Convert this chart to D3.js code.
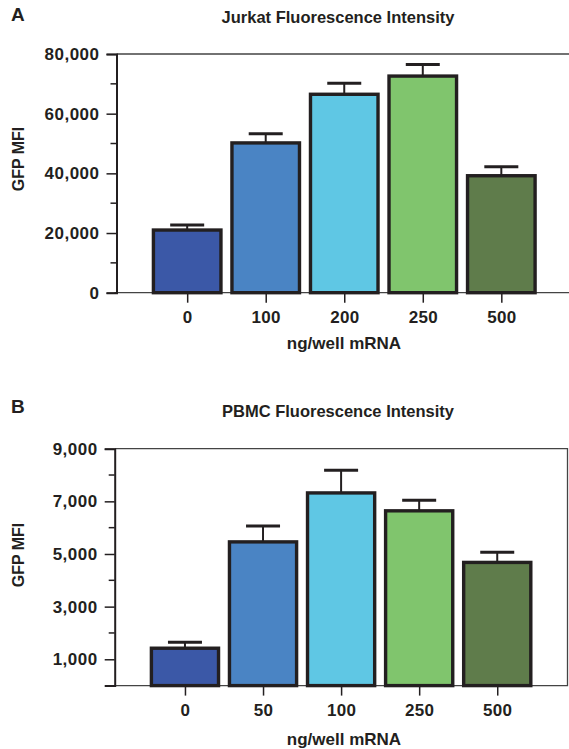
<!DOCTYPE html>
<html>
<head>
<meta charset="utf-8">
<script src="https://cdn.jsdelivr.net/npm/d3@7"></script>
<style>
  body { margin: 0; background: #fff; }
  svg text { font-family: "Liberation Sans", Arial, sans-serif; font-weight: bold; fill: #231f20; }
</style>
</head>
<body>
<div id="master"></div>
<script>
// panel A - Jurkat
const jurkatDoses = ["0", "100", "200", "250", "500"]
const jurkatMFI = [21000, 50200, 66500, 72600, 39200]
const jurkatErr = [1700, 3100, 3700, 3900, 3000]
const jurkatTicks = [0, 20000, 40000, 60000, 80000]

// panel B - PBMC
const pbmcDoses = ["0", "50", "100", "250", "500"]
const pbmcMFI = [1420, 5460, 7320, 6640, 4680]
const pbmcErr = [230, 600, 860, 400, 390]
const pbmcTicks = [1000, 3000, 5000, 7000, 9000]

const barColors = ["#3b58a7", "#4a84c4", "#5fc7e4", "#80c56d", "#5f7c4b"]
const ink = "#231f20"

const svg = d3.select("#master").append("svg").attr("width", 569).attr("height", 749)

const drawPanel = (cfg) => {
  let g = svg.append("g")
  let y = d3.scaleLinear().domain([0, cfg.max]).range([cfg.bottom, cfg.top])
  let x = d3.scalePoint().domain(cfg.cats).range([cfg.left, cfg.right]).padding(0.9)
  let bw = x.step() * 0.86

  // frame
  g.append("path")
    .attr("d", `M${cfg.left},${y(cfg.max)}H${cfg.right}V${y(0)}H${cfg.left - 2}`)
    .attr("fill", "none").attr("stroke", "#444").attr("stroke-width", 1.3)

  // bars
  g.selectAll("rect.bar").data(cfg.vals).enter().append("rect")
    .attr("class", "bar")
    .attr("x", (d, i) => x(cfg.cats[i]) - bw / 2)
    .attr("y", d => y(d))
    .attr("width", bw)
    .attr("height", d => y(0) - y(d))
    .attr("fill", (d, i) => barColors[i])
    .attr("stroke", ink).attr("stroke-width", 3.4)

  // error bars (upper only)
  let eb = g.selectAll("g.err").data(cfg.vals).enter().append("g").attr("class", "err")
  eb.append("line")
    .attr("x1", (d, i) => x(cfg.cats[i])).attr("x2", (d, i) => x(cfg.cats[i]))
    .attr("y1", d => y(d)).attr("y2", (d, i) => y(d + cfg.err[i]))
    .attr("stroke", ink).attr("stroke-width", 2)
  eb.append("line")
    .attr("x1", (d, i) => x(cfg.cats[i]) - 17).attr("x2", (d, i) => x(cfg.cats[i]) + 17)
    .attr("y1", (d, i) => y(d + cfg.err[i])).attr("y2", (d, i) => y(d + cfg.err[i]))
    .attr("stroke", ink).attr("stroke-width", 3)

  // y axis
  let yAxis = d3.axisLeft(y).tickValues(cfg.ticks).tickSize(10).tickPadding(7)
    .tickFormat(d3.format(","))
  let ya = g.append("g").attr("transform", `translate(${cfg.left},0)`).call(yAxis)
  ya.select(".domain").attr("stroke", ink).attr("stroke-width", 2)
  ya.selectAll(".tick line").attr("stroke", ink).attr("stroke-width", 1.5)
  ya.selectAll("text").style("font-size", "17px").attr("fill", ink).style("letter-spacing", "0.5px")
  // minor ticks
  g.selectAll("line.minor").data(cfg.minor).enter().append("line")
    .attr("x1", cfg.left - 6).attr("x2", cfg.left)
    .attr("y1", d => y(d)).attr("y2", d => y(d))
    .attr("stroke", ink).attr("stroke-width", 1.5)

  // x axis
  let xa = g.append("g").attr("transform", `translate(0,${y(0)})`)
    .call(d3.axisBottom(x).tickSize(10).tickSizeOuter(0).tickPadding(8))
  xa.select(".domain").remove()
  xa.selectAll(".tick line").attr("stroke", ink).attr("stroke-width", 1.5)
  xa.selectAll("text").style("font-size", "17px").attr("fill", ink).style("letter-spacing", "0.3px")

  // labels
  g.append("text").attr("x", 11).attr("y", cfg.letterY).text(cfg.letter)
    .style("font-size", "19px")
  g.append("text").attr("x", 338).attr("y", cfg.titleY).text(cfg.title)
    .style("font-size", "16.5px").attr("text-anchor", "middle")
  g.append("text").attr("x", 344).attr("y", cfg.xlabY).text("ng/well mRNA")
    .style("font-size", "17px").attr("text-anchor", "middle")
  g.append("text").attr("transform", `translate(24,${cfg.ylabMid}) rotate(-90)`)
    .text("GFP MFI").style("font-size", "16px").attr("text-anchor", "middle")
}

drawPanel({
  cats: jurkatDoses, vals: jurkatMFI, err: jurkatErr, ticks: jurkatTicks,
  minor: [10000, 30000, 50000, 70000], max: 80000,
  left: 116.5, right: 572, top: 54, bottom: 292.7,
  letter: "A", letterY: 21, title: "Jurkat Fluorescence Intensity", titleY: 22.5, xlabY: 349, ylabMid: 159
})

drawPanel({
  cats: pbmcDoses, vals: pbmcMFI, err: pbmcErr, ticks: pbmcTicks,
  minor: [2000, 4000, 6000, 8000], max: 9000,
  left: 114.7, right: 567.5, top: 448.7, bottom: 685.6,
  letter: "B", letterY: 413, title: "PBMC Fluorescence Intensity", titleY: 417, xlabY: 745, ylabMid: 555
})
</script>
</body>
</html>
